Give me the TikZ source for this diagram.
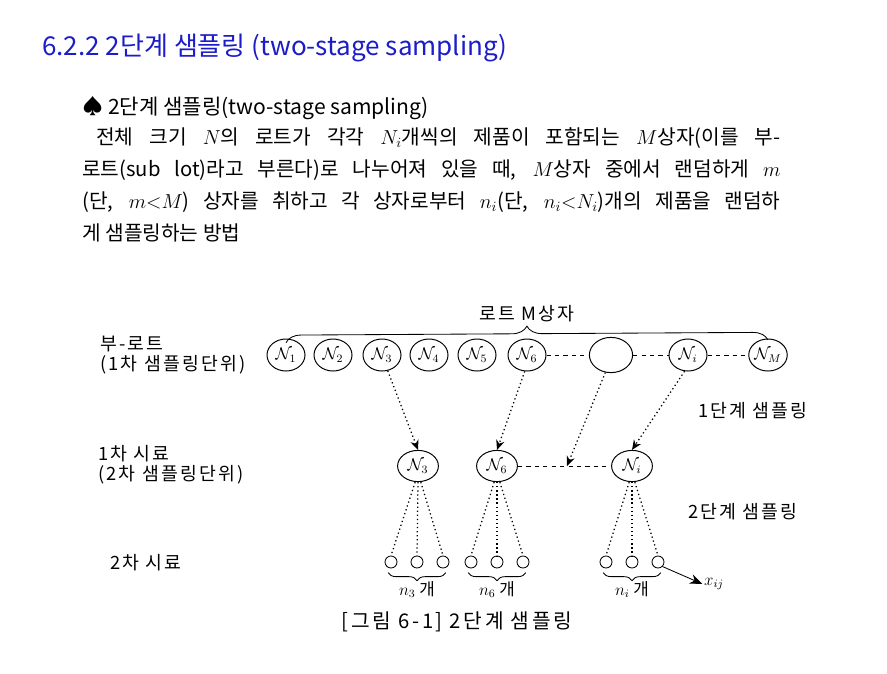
\documentclass[tikz,border=0pt]{standalone}
\usepackage{fontspec}
\setmainfont{Noto Sans CJK KR}
\newfontfamily\labelfont[LetterSpace=12]{Noto Sans CJK KR}
\newfontfamily\capfont[LetterSpace=13]{Noto Sans CJK KR}
\usepackage{amsmath}
\usetikzlibrary{shapes.geometric, arrows.meta, decorations.pathreplacing, positioning}
\definecolor{titleblue}{RGB}{28, 28, 200}
\tikzset{
    % Sub-lots (first stage units)
    lot box/.style={
        ellipse, draw=black, line width=0.7pt,
        minimum width=0.95cm, minimum height=0.8cm, inner sep=0pt,
        font=\large
    },
    % Chosen sub-lots (second stage units)
    pick box/.style={
        ellipse, draw=black, line width=0.7pt,
        minimum width=1.02cm, minimum height=0.78cm, inner sep=0pt,
        font=\large
    },
    % Sampled items
    item dot/.style={
        circle, draw=black, line width=0.6pt, minimum size=0.3cm, inner sep=0pt
    },
    % Arrows
    pick arrow/.style={
        -{Stealth[length=7pt, width=6pt]}, dotted, line width=0.9pt
    },
    fan line/.style={
        dotted, line width=0.9pt
    },
    dash link/.style={
        line width=0.6pt, dash pattern=on 3pt off 3pt
    },
    % Braces
    top brace/.style={
        decorate, decoration={brace, amplitude=0.38cm}, line width=0.6pt
    },
    count brace/.style={
        decorate, decoration={brace, mirror, amplitude=0.2cm}, line width=0.6pt
    },
    % Side texts
    side text/.style={
        anchor=west, align=left, inner sep=0pt,
        font=\labelfont\fontsize{13}{14}\selectfont
    }
}

\begin{document}
\begin{tikzpicture}[x=0.025cm, y=-0.025cm]
    \useasboundingbox (0,0) rectangle (887,673);

    % Heading
    \node[anchor=base west, inner sep=0pt, text=titleblue, font=\fontsize{18.5}{22}\selectfont]
        (title) at (42, 55) {6.2.2 2단계 샘플링 (two-stage sampling)};
    \node[anchor=base west, inner sep=0pt, font=\fontsize{15}{17}\selectfont]
        (bullet) at (82, 114) {♠ 2단계 샘플링(two-stage sampling)};

    % Definition text
    \node[anchor=north west, inner sep=0pt, align=left, font=\fontsize{14.4}{22.8}\selectfont]
        (para) at (82, 127) {
        \makebox[17.45cm][s]{\hspace*{0.35cm}전체 크기 $N$의 로트가 각각 $N_i$개씩의 제품이 포함되는 $M$상자(이를 부-}\\
        \makebox[17.45cm][s]{로트(sub lot)라고 부른다)로 나누어져 있을 때, $M$상자 중에서 랜덤하게 $m$}\\
        \makebox[17.45cm][s]{(단, ${m{<}M}$) 상자를 취하고 각 상자로부터 $n_i$(단, ${n_i{<}N_i}$)개의 제품을 랜덤하}\\
        게 샘플링하는 방법
    };

    % Top row: sub-lots
    \node[lot box] (t1) at (286, 355) {$\mathcal{N}_1$};
    \node[lot box] (t2) at (333, 355) {$\mathcal{N}_2$};
    \node[lot box] (t3) at (382, 355) {$\mathcal{N}_3$};
    \node[lot box] (t4) at (429, 355) {$\mathcal{N}_4$};
    \node[lot box] (t5) at (477, 355) {$\mathcal{N}_5$};
    \node[lot box] (t6) at (527, 355) {$\mathcal{N}_6$};
    \node[lot box, minimum width=1.08cm, minimum height=0.88cm] (tb) at (611, 355) {};
    \node[lot box] (ti) at (688, 355) {$\mathcal{N}_i$};
    \node[lot box] (tM) at (768, 355) {$\mathcal{N}_M$};

    \draw[dash link] (t6) -- (tb);
    \draw[dash link] (tb) -- (ti);
    \draw[dash link] (ti) -- (tM);

    % Brace over all lots
    \draw[top brace] ([yshift=-3pt]t1.north) -- ([yshift=-1pt]tM.north)
        node[midway, above=0.48cm, inner sep=0pt, font=\labelfont\fontsize{13}{14}\selectfont] (lotM) {로트 M상자};

    % Middle row: chosen sub-lots
    \node[pick box] (m3) at (418, 466) {$\mathcal{N}_3$};
    \node[pick box] (m6) at (497, 466) {$\mathcal{N}_6$};
    \node[pick box] (mi) at (632, 466) {$\mathcal{N}_i$};
    \coordinate (hit) at (567, 466);

    \draw[dash link] (m6) -- (mi);

    % First stage sampling
    \draw[pick arrow] (t3.290) -- (m3.north);
    \draw[pick arrow] (t6.262) -- (m6.north);
    \draw[pick arrow] (tb.252) -- (hit);
    \draw[pick arrow] (ti.258) -- (mi.north);

    % Bottom row: items
    \foreach \g/\x in {m3/391, m6/471, mi/606} {
        \node[item dot] (\g a) at (\x, 562) {};
        \node[item dot] (\g b) at (\x+26, 562) {};
        \node[item dot] (\g c) at (\x+52, 562) {};
        \draw[fan line] ([xshift=-2pt]\g.south) -- (\g a.north);
        \draw[fan line] (\g.south) -- (\g b.north);
        \draw[fan line] ([xshift=2pt]\g.south) -- (\g c.north);
    }

    % Item counts
    \draw[count brace] ([xshift=-2pt, yshift=-3pt]m3a.south) -- ([xshift=2pt, yshift=-3pt]m3c.south)
        node[midway, below=0.2cm, inner sep=0pt, font=\fontsize{12}{14}\selectfont] (n3) {$n_3$ 개};
    \draw[count brace] ([xshift=-2pt, yshift=-3pt]m6a.south) -- ([xshift=2pt, yshift=-3pt]m6c.south)
        node[midway, below=0.2cm, inner sep=0pt, font=\fontsize{12}{14}\selectfont] (n6) {$n_6$ 개};
    \draw[count brace] ([xshift=-2pt, yshift=-3pt]mia.south) -- ([xshift=2pt, yshift=-3pt]mic.south)
        node[midway, below=0.2cm, inner sep=0pt, font=\fontsize{12}{14}\selectfont] (ni) {$n_i$ 개};

    % One item
    \node[inner sep=1pt, font=\large] (xij) at (714, 584) {$x_{ij}$};
    \draw[-{Stealth[length=9pt, width=7pt]}, line width=0.6pt] (mic.south east) -- (xij.west);

    % Side texts
    \node[side text] (sub) at (100, 355) {부-로트\\(1차 샘플링단위)};
    \node[side text] (first) at (98, 465) {1차 시료\\(2차 샘플링단위)};
    \node[side text] (second) at (110, 563) {2차 시료};
    \node[side text] (stage1) at (698, 411) {1단계 샘플링};
    \node[side text] (stage2) at (688, 512) {2단계 샘플링};

    % Caption
    \node[inner sep=0pt, font=\capfont\fontsize{14.4}{16}\selectfont] (caption) at (457, 622) {[그림 6-1] 2단계 샘플링};

\end{tikzpicture}
\end{document}
